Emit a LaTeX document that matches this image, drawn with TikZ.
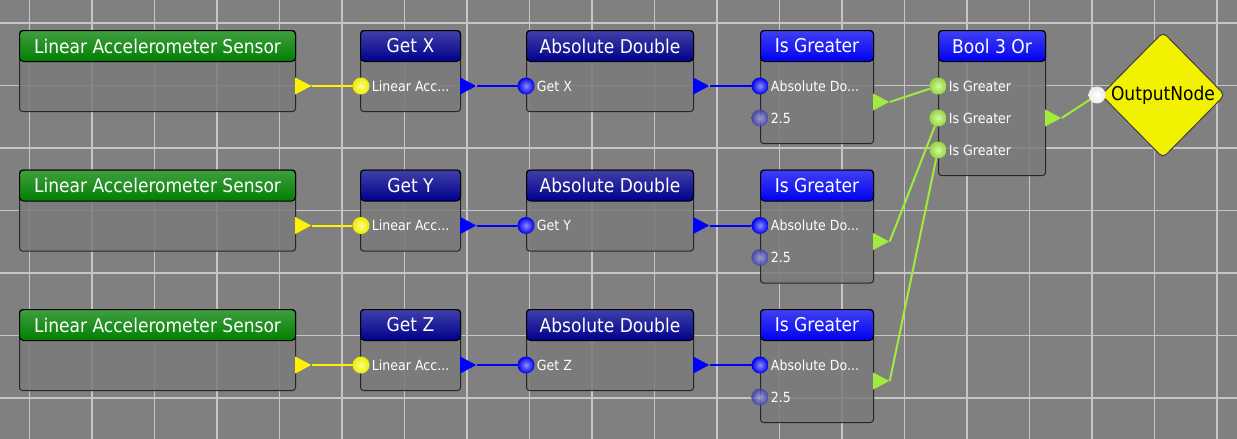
\documentclass[tikz,border=0pt]{standalone}
\usepackage{fontspec}
\setmainfont{DejaVu Sans Condensed}
\usetikzlibrary{positioning,shapes.geometric}
\definecolor{bgc}{HTML}{808080}
\definecolor{gridc}{HTML}{C6C6C6}
\definecolor{bodyc}{HTML}{7B7B7B}
\definecolor{sensorc}{HTML}{007F00}
\definecolor{navyc}{HTML}{00008C}
\definecolor{bluec}{HTML}{0000F0}
\definecolor{limec}{HTML}{A0EB3C}
\definecolor{outc}{HTML}{F2F200}
\tikzstyle{gridl}=[gridc,line width=1.6pt]
\tikzstyle{body}=[draw=black!85,line width=1pt,fill=bodyc,fill opacity=0.85,rounded corners=3pt,anchor=north west,inner sep=0pt]
\tikzstyle{head}=[draw=black,line width=1pt,rounded corners=4pt,anchor=north,minimum height=31pt,inner sep=0pt,text=white,font=\fontsize{19}{22}\selectfont]
\tikzstyle{inp}=[circle,inner sep=0pt,minimum size=17pt]
\tikzstyle{outp}=[isosceles triangle,isosceles triangle stretches,inner sep=0pt,minimum width=17pt,minimum height=16pt,anchor=lower side]
\tikzstyle{lbl}=[text=white,inner sep=2pt,font=\fontsize{14}{16}\selectfont]
\tikzstyle{wire}=[line width=2pt]
\tikzset{port/.style={inp,inner color=#1!45!white,outer color=#1!92!black}}

\begin{document}
\begin{tikzpicture}[x=1pt,y=-1pt]
\def\blk#1#2#3#4#5#6{%
  \node[body,minimum width=#3pt,minimum height=#4pt] (#1) at (#2) {};
  \node[head,top color=#5!75!white,middle color=#5,bottom color=#5,minimum width=#3pt] (#1-h) at (#1.north) {#6};}
\useasboundingbox (0,0) rectangle (1237,439);
\fill[bgc] (0,0) rectangle (1237,439);
% grid
\foreach \i in {0,...,19} \draw[gridl] ({29.5+62.5*\i},0) -- ++(0,439);
\foreach \j in {0,...,6} \draw[gridl] (0,{23+62.5*\j}) -- ++(1237,0);
% three sensor rows
\foreach \ax [count=\r from 0] in {X,Y,Z}{
  \pgfmathsetmacro\yt{30+139.5*\r}
  \pgfmathsetmacro\yp{86+139.5*\r}
  \blk{s\r}{19,\yt}{276}{81}{sensorc}{Linear Accelerometer Sensor}
  \blk{g\r}{360,\yt}{100}{81}{navyc}{Get \ax}
  \blk{a\r}{526,\yt}{167}{81}{navyc}{Absolute Double}
  \blk{ig\r}{760,\yt}{113}{113}{bluec}{Is Greater}
  \node[outp,fill=yellow] (s\r-o) at (295,\yp) {};
  \node[port=yellow] (g\r-i) at (361,\yp) {};
  \node[lbl,right=0pt of g\r-i] {Linear Acc...};
  \node[outp,fill=blue] (g\r-o) at (460,\yp) {};
  \node[port=blue] (a\r-i) at (526,\yp) {};
  \node[lbl,right=0pt of a\r-i] {Get \ax};
  \node[outp,fill=blue] (a\r-o) at (693,\yp) {};
  \node[port=blue] (ig\r-i) at (760,\yp) {};
  \node[lbl,right=0pt of ig\r-i] {Absolute Do...};
  \node[port=blue!50!gray,opacity=0.8] (ig\r-c) at (760,\yp+32) {};
  \node[lbl,right=0pt of ig\r-c] {2.5};
  \node[outp,fill=limec] (ig\r-o) at (873,\yp+16) {};
  \draw[wire,yellow] (s\r-o.apex) -- (g\r-i);
  \draw[wire,blue] (g\r-o.apex) -- (a\r-i);
  \draw[wire,blue] (a\r-o.apex) -- (ig\r-i);
}
% or block and output
\blk{or}{938,30}{107}{145}{bluec}{Bool 3 Or}
\foreach \k in {0,1,2}{
  \node[port=limec] (or-i\k) at (938,86+32*\k) {};
  \node[lbl,right=0pt of or-i\k] {Is Greater};
  \draw[wire,limec] (ig\k-o.apex) -- (or-i\k);
}
\node[outp,fill=limec] (or-o) at (1045,118) {};
\node[diamond,draw=black!75,line width=1pt,fill=outc,rounded corners=5pt,minimum width=124pt,minimum height=126pt,inner sep=0pt,font=\fontsize{19}{22}\selectfont] (out) at (1163,95) {OutputNode};
\node[port=white] (out-i) at (1097,95) {};
\draw[wire,limec] (or-o.apex) -- (out-i);
\end{tikzpicture}
\end{document}
